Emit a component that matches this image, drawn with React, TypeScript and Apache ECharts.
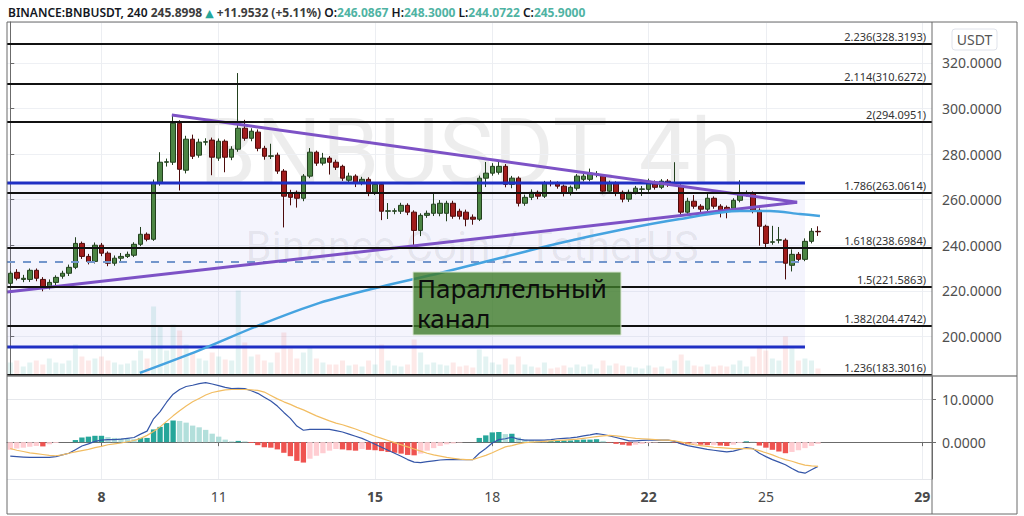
import React, { useEffect, useRef } from "react";
import * as echarts from "echarts";

const FONT = "'Noto Sans', 'DejaVu Sans', sans-serif";

// ---- candles (4h), first candle: day 5, 16:00 ----
const START_DAY = 5;
const START_HOUR = 16;
const SLOTS = 142;

const opens = [223.3,228.1,225.0,225.0,229.0,225.0,221.5,223.7,226.4,227.7,
230.3,240.8,235.1,232.9,240.0,236.5,232.1,234.3,235.1,235.6,
240.4,244.8,242.6,267.2,276.4,276.4,293.5,272.9,286.5,279.5,
285.2,286.1,278.2,285.6,278.6,282.1,291.3,286.9,289.6,282.5,
279.0,279.5,272.5,262.8,263.2,260.6,270.3,280.8,276.0,278.2,
276.4,274.6,268.5,270.3,267.2,268.9,263.2,266.7,254.9,254.9,
254.9,257.5,254.5,246.5,253.1,254.0,254.0,254.0,258.4,254.9,
254.5,252.3,251.4,269.4,271.6,272.0,274.6,266.7,269.4,258.4,
261.0,263.2,261.5,267.2,267.2,265.9,262.8,265.0,268.9,268.9,
271.1,270.3,263.7,267.2,263.2,260.2,263.2,264.5,264.5,267.6,
265.4,268.1,267.2,265.9,254.5,259.3,257.1,255.8,260.6,257.1,
256.6,256.2,259.7,262.8,262.8,255.3,248.3,241.3,242.2,242.2,
231.2,236.0,233.8,241.7,246.0867];

const closes = [227.7,225.5,225.5,229.0,225.5,221.5,223.7,225.9,227.7,230.3,
240.8,235.1,232.9,240.0,236.5,232.1,234.3,235.1,236.0,240.4,
244.8,242.6,267.2,276.4,276.6,293.5,273.3,286.5,279.0,285.2,
285.4,278.6,285.6,278.6,282.1,291.3,286.9,290.0,282.5,279.0,
279.2,272.5,261.5,261.0,260.6,270.3,280.8,276.0,278.2,276.4,
274.2,269.4,270.3,267.2,268.9,263.2,266.7,254.9,255.1,255.1,
257.5,254.5,246.5,253.1,254.0,258.0,258.4,258.4,252.7,252.7,
251.4,251.4,269.4,271.6,274.6,274.6,266.7,269.4,258.4,261.0,
263.2,261.5,267.2,267.0,265.9,262.8,265.4,270.3,270.3,271.6,
271.3,263.7,267.2,262.8,260.2,263.2,265.0,264.7,268.1,265.4,
268.1,266.7,267.4,254.5,259.3,257.1,255.8,260.6,257.1,255.3,
254.9,259.7,262.8,263.0,255.3,248.3,240.8,241.5,242.4,232.1,
236.0,233.8,241.7,246.1,245.9];

const highs = [228.6,229.5,227.0,229.8,229.8,226.0,225.0,226.8,228.8,231.5,
243.5,241.6,236.2,241.2,241.0,237.3,235.5,236.6,237.2,241.3,
248.0,245.6,268.8,280.8,278.0,297.0,294.8,288.0,288.5,286.7,
286.9,287.2,286.8,286.4,283.4,315.5,295.0,291.3,290.8,283.6,
284.5,280.6,273.4,264.3,264.0,271.2,282.6,281.5,280.5,279.1,
277.5,275.3,271.8,271.1,270.0,269.8,267.6,267.5,258.5,256.2,
258.6,258.4,255.3,254.0,255.2,263.0,259.8,259.5,259.5,256.0,
255.6,253.5,270.5,276.5,276.0,277.3,275.6,270.4,270.2,262.2,
264.5,264.0,268.2,268.5,268.0,266.6,266.2,271.2,271.5,273.6,
272.5,271.0,268.3,268.0,264.0,264.4,266.0,266.0,269.2,268.4,
269.0,269.0,276.4,266.7,260.8,262.0,258.0,263.0,261.4,258.0,
257.4,260.6,268.5,264.0,263.6,256.2,249.0,248.5,248.0,243.0,
238.2,237.0,243.0,247.5,248.3];

const lows = [222.0,224.6,223.8,223.9,224.2,219.8,220.6,222.5,225.3,226.5,
229.5,234.0,231.6,232.0,235.2,230.8,231.0,233.1,234.4,234.8,
239.6,241.7,241.9,266.1,274.5,275.2,264.0,271.5,277.8,278.4,
283.8,270.7,277.0,272.0,277.3,281.0,285.8,285.6,281.2,277.5,
277.8,271.3,247.8,257.5,256.5,259.3,269.4,274.8,275.0,271.0,
273.0,268.2,267.0,265.5,266.3,261.5,262.0,251.0,251.5,253.6,
253.7,253.2,239.5,244.0,252.0,252.8,252.7,250.5,251.6,251.3,
248.3,249.0,250.6,265.5,270.5,271.0,265.4,265.0,257.0,257.3,
259.8,260.2,260.7,265.8,264.8,261.4,261.8,264.0,268.0,268.0,
269.8,262.4,262.8,261.5,258.8,259.0,262.3,261.6,263.4,264.4,
264.6,265.6,266.0,253.2,253.3,256.0,254.2,254.8,256.0,252.2,
251.8,255.3,258.8,261.3,254.0,239.8,239.2,240.2,240.8,225.0,
228.5,232.6,233.0,240.8,244.0722];

const volumes = [12,14,8,12,14,10,16,12,11,14,
30,18,14,16,18,14,12,10,11,14,
24,16,68,48,24,50,44,30,22,16,
14,22,18,15,14,84,32,18,20,14,
12,22,42,26,16,22,28,16,12,10,
10,14,9,10,8,14,10,30,14,9,
8,10,35,22,10,12,10,9,12,8,
9,7,25,18,12,10,16,10,18,10,
8,7,12,6,7,9,7,10,8,10,
6,14,9,11,9,8,7,6,9,7,
8,6,14,20,14,9,8,10,8,9,
8,10,14,8,18,28,24,16,14,38,
26,14,16,14,6];

// ---- MACD ----
const macdLine = [-3.3,-3.4,-3.5,-3.6,-3.6,-3.6,-3.6,-3.4,-3.0,-2.6,
-1.8,-0.9,-0.4,0.2,0.5,0.6,0.6,0.7,0.9,1.1,
1.9,2.6,5.5,7.2,9.4,11.3,12.4,13.1,13.4,13.8,
14.0,13.7,13.3,12.9,12.6,12.7,12.6,12.1,11.5,10.6,
9.7,8.5,7.0,5.6,3.8,2.8,3.0,3.0,3.0,3.0,
2.7,2.4,1.9,1.4,0.9,0.2,-0.5,-1.2,-1.9,-2.6,
-3.3,-4.1,-4.7,-4.8,-4.6,-4.4,-4.2,-4.1,-4.1,-4.1,
-4.1,-4.1,-2.6,-1.5,-0.2,0.6,0.8,1.2,0.7,0.5,
0.5,0.5,0.5,0.6,0.8,0.9,1.0,1.2,1.5,1.7,
2.0,1.8,1.5,1.1,0.7,0.3,0.3,0.4,0.5,0.5,
0.5,0.5,0.2,-0.4,-0.8,-1.1,-1.4,-1.7,-1.9,-2.1,
-2.3,-2.1,-1.7,-1.3,-1.5,-2.6,-3.4,-4.1,-4.7,-5.3,
-6.2,-7.0,-7.3,-6.5,-5.7];

const signalLine = [-1.5,-1.9,-2.2,-2.5,-2.7,-2.9,-3.1,-3.2,-3.0,-2.6,
-2.3,-2.0,-1.7,-1.3,-1.0,-0.6,-0.4,-0.2,0.1,0.4,
0.9,1.6,2.5,3.6,4.9,6.2,7.4,8.5,9.5,10.3,
11.1,11.7,12.0,12.3,12.4,12.4,12.4,12.3,12.2,11.8,
11.0,10.2,9.5,8.9,8.2,7.6,6.9,6.2,5.6,5.0,
4.5,4.1,3.6,3.1,2.5,2.0,1.4,0.9,0.4,-0.1,
-0.6,-1.1,-1.6,-2.1,-2.6,-3.0,-3.3,-3.6,-3.8,-4.0,
-4.1,-4.1,-3.6,-3.1,-2.5,-1.8,-1.1,-0.8,-0.4,-0.1,
0.0,0.1,0.2,0.3,0.4,0.5,0.6,0.7,0.9,1.1,
1.3,1.5,1.6,1.5,1.3,1.1,0.9,0.8,0.7,0.6,
0.5,0.5,0.3,0.0,-0.3,-0.6,-0.8,-1.0,-1.2,-1.3,
-1.4,-1.5,-1.5,-1.5,-1.6,-2.0,-2.5,-3.0,-3.6,-4.1,
-4.5,-5.0,-5.4,-5.6,-5.7];

const histogram = [-1.8,-1.5,-1.3,-1.1,-0.9,-1.0,-0.5,-0.2,0.0,0.0,
0.5,1.1,1.3,1.5,1.5,1.2,1.0,0.9,0.8,0.7,
1.0,1.0,3.0,3.6,4.5,5.1,5.0,4.6,3.9,3.5,
2.9,2.0,1.3,0.6,0.2,0.3,0.2,-0.2,-0.7,-1.2,
-1.3,-1.7,-2.5,-3.3,-4.4,-4.8,-3.9,-3.2,-2.6,-2.0,
-1.6,-1.7,-1.9,-2.0,-1.6,-1.8,-1.9,-2.1,-2.3,-2.5,
-2.7,-3.0,-3.1,-2.7,-2.0,-1.4,-0.9,-0.5,-0.3,-0.1,
0.0,0.0,1.0,1.6,2.3,2.4,1.9,2.0,1.1,0.6,
0.5,0.4,0.3,0.3,0.4,0.4,0.4,0.5,0.6,0.6,
0.7,0.3,-0.1,-0.4,-0.6,-0.8,-0.6,-0.4,-0.2,-0.1,
0.0,0.0,-0.1,-0.4,-0.5,-0.5,-0.6,-0.7,-0.7,-0.8,
-0.9,-0.6,-0.2,0.2,0.1,-0.8,-1.3,-1.8,-2.2,-2.6,
-2.3,-1.9,-1.4,-0.9,-0.4];

// ---- Fibonacci extension levels ----
const fibRatios = ["2.236", "2.114", "2", "1.786", "1.618", "1.5", "1.382", "1.236"];
const fibPrices = [328.3193, 310.6272, 294.0951, 263.0614, 238.6984, 221.5863, 204.4742, 183.3016];

// ---- drawings, [candle index, price] ----
const channelTop: [number, number][] = [[-0.5, 267.3], [122.0, 267.3]];
const channelBottom: [number, number][] = [[-0.5, 195.4], [122.0, 195.4]];
const channelMid: [number, number][] = [[-0.5, 232.6], [122.0, 232.6]];
const upperTrend: [number, number][] = [[24.8, 297.1], [120.8, 258.8]];
const lowerTrend: [number, number][] = [[-0.5, 219.5], [120.8, 258.8]];
const maPoints: [number, number][] = [
  [19.9, 184.0], [29.1, 194.0], [38.3, 205.0], [47.5, 214.7], [56.8, 221.7],
  [66.0, 227.8], [75.2, 234.4], [84.4, 241.0], [93.6, 246.7], [102.8, 251.5],
  [112.0, 255.0], [116.6, 255.0], [121.2, 253.7], [124.3, 252.8],
];

const dayLabels = ["8", "11", "15", "18", "22", "25", "29"];
const boldDays = ["8", "15", "22", "29"];
const lastPrice = 245.9;

const categories = Array.from({ length: SLOTS }, (_, i) => {
  const h = START_HOUR + 4 * i;
  return `${START_DAY + Math.floor(h / 24)} ${String(h % 24).padStart(2, "0")}:00`;
});
const dayOf = (i: number) => START_DAY + Math.floor((START_HOUR + 4 * i) / 24);
const showDay = (i: number) =>
  (START_HOUR + 4 * i) % 24 === 0 && dayLabels.includes(String(dayOf(i)));

const UP = "#4c8544";
const UP_B = "#22401e";
const DOWN = "#a11c1c";
const DOWN_B = "#4d0b0b";

export default function App() {
  const ref = useRef<HTMLDivElement>(null);

  useEffect(() => {
    if (!ref.current) return;
    const chart = echarts.init(ref.current, null, { renderer: "svg" });

    const candleData = opens.map((o, i) => [o, closes[i], lows[i], highs[i]]);
    const volData = volumes.map((v, i) => ({
      value: v,
      itemStyle: {
        color: closes[i] >= opens[i] ? "rgba(38,166,154,0.13)" : "rgba(239,83,80,0.13)",
      },
    }));
    const histData = histogram.map((h, i) => {
      const prev = i > 0 ? histogram[i - 1] : h;
      let c;
      if (h >= 0) c = h >= prev ? "#26a69a" : "#b2dfdb";
      else c = h < prev ? "#ef5350" : "#ffcdd2";
      return { value: h, itemStyle: { color: c } };
    });

    const fibMarks: any[] = fibPrices.map((p, i) => ({
      yAxis: p,
      lineStyle: { color: "#111", width: 2, type: "solid" },
      label: {
        show: true,
        position: "insideEndTop",
        formatter: `${fibRatios[i]}(${p.toFixed(4)})`,
        color: "#333",
        fontSize: 11,
        fontFamily: FONT,
        distance: [6, 2],
      },
    }));
    fibMarks.push({
      yAxis: lastPrice,
      lineStyle: { opacity: 0, width: 0 },
      label: {
        show: true,
        position: "end",
        distance: 0,
        formatter: lastPrice.toFixed(4),
        color: "#fff",
        backgroundColor: "#cf0a0a",
        borderRadius: 2,
        padding: [3, 9, 2, 9],
        fontSize: 15,
        fontFamily: FONT,
      },
    });

    const lineSeries = (data: [number, number][], color: string, width: number, extra: any = {}) => ({
      type: "line",
      xAxisIndex: 1,
      yAxisIndex: 0,
      data,
      symbol: "none",
      silent: true,
      z: 5,
      lineStyle: { color, width, ...(extra.lineStyle || {}) },
      ...extra.rest,
    });

    const axisLabelStyle = {
      color: "#4f4f4f",
      fontSize: 14,
      fontFamily: FONT,
      margin: 10,
      showMinLabel: false,
      showMaxLabel: false,
      formatter: (v: number) => v.toFixed(4),
    };

    const option: any = {
      animation: false,
      backgroundColor: "#ffffff",
      textStyle: { fontFamily: FONT },
      title: {
        left: 3,
        top: 1,
        text:
          "{a|BINANCE:BNBUSDT, 240} {b|245.8998} {u|▲} {b|+11.9532 (+5.11%)} {k|O:}{v|246.0867} {k|H:}{v|248.3000} {k|L:}{v|244.0722} {k|C:}{v|245.9000}",
        textStyle: {
          fontSize: 12,
          fontFamily: FONT,
          rich: {
            a: { fontSize: 12, fontWeight: 600, color: "#131722", fontFamily: FONT },
            b: { fontSize: 12, color: "#3c3c3c", fontFamily: FONT },
            u: { fontSize: 11, color: "#26a69a", fontFamily: FONT },
            k: { fontSize: 12, fontWeight: 600, color: "#131722", fontFamily: FONT },
            v: { fontSize: 12, color: "#4fb3a3", fontFamily: FONT },
          },
        },
      },
      grid: [
        { left: 7, right: 92, top: 22, height: 352.5, show: false },
        { left: 7, right: 92, top: 376.5, height: 102.5, show: false },
      ],
      xAxis: [
        {
          type: "category",
          gridIndex: 0,
          data: categories,
          axisLine: { show: false },
          axisTick: { show: false },
          axisLabel: { show: false },
          splitLine: { show: true, interval: (i: number) => showDay(i), alignWithLabel: true, lineStyle: { color: "#eceef2" } },
        },
        { type: "value", gridIndex: 0, min: -0.5, max: SLOTS - 0.5, show: false },
        {
          type: "category",
          gridIndex: 1,
          data: categories,
          axisLine: { show: true, lineStyle: { color: "#6b6b6b" } },
          axisTick: { show: true, alignWithLabel: true, interval: (i: number) => showDay(i), length: 4, lineStyle: { color: "#6b6b6b" } },
          axisLabel: {
            interval: (i: number) => showDay(i),
            margin: 10,
            formatter: (_v: string, i: number) => {
              const d = String(dayOf(i));
              return boldDays.includes(d) ? `{b|${d}}` : `{n|${d}}`;
            },
            rich: {
              b: { fontSize: 14, fontWeight: "bold", color: "#4a4a4a", fontFamily: FONT },
              n: { fontSize: 14, color: "#4a4a4a", fontFamily: FONT },
            },
          },
          splitLine: { show: true, interval: (i: number) => showDay(i), alignWithLabel: true, lineStyle: { color: "#eceef2" } },
        },
      ],
      yAxis: [
        {
          type: "value",
          gridIndex: 0,
          position: "right",
          min: 183.3,
          max: 337.9,
          splitNumber: 7,
          axisLine: { show: true, lineStyle: { color: "#6b6b6b" } },
          axisTick: { show: true, length: 4, lineStyle: { color: "#6b6b6b" } },
          axisLabel: axisLabelStyle,
          splitLine: { show: true, lineStyle: { color: "#eef0f4" } },
        },
        { type: "value", gridIndex: 0, min: 0, max: 352.5, show: false },
        {
          type: "value",
          gridIndex: 1,
          position: "right",
          min: -8.67,
          max: 15.46,
          splitNumber: 2,
          axisLine: { show: true, lineStyle: { color: "#6b6b6b" } },
          axisTick: { show: true, length: 4, lineStyle: { color: "#6b6b6b" } },
          axisLabel: axisLabelStyle,
          splitLine: { show: true, lineStyle: { color: "#e6e8ec" } },
        },
      ],
      series: [
        {
          type: "bar",
          name: "Volume",
          xAxisIndex: 0,
          yAxisIndex: 1,
          data: volData,
          barWidth: 5,
          silent: true,
          z: 1,
        },
        {
          type: "line",
          name: "channel",
          xAxisIndex: 1,
          yAxisIndex: 0,
          data: channelTop,
          symbol: "none",
          silent: true,
          z: 5,
          lineStyle: { color: "#1f2fc4", width: 3 },
          markArea: {
            silent: true,
            itemStyle: { color: "rgba(95,105,220,0.07)" },
            data: [[{ coord: [channelTop[0][0], channelTop[0][1]] }, { coord: [channelBottom[1][0], channelBottom[1][1]] }]],
          },
        },
        lineSeries(channelBottom, "#1f2fc4", 3),
        lineSeries(channelMid, "#7396cc", 2, { lineStyle: { type: [8, 8] } }),
        {
          type: "candlestick",
          name: "BNBUSDT",
          xAxisIndex: 0,
          yAxisIndex: 0,
          data: candleData,
          barWidth: 5,
          z: 3,
          itemStyle: { color: UP, color0: DOWN, borderColor: UP_B, borderColor0: DOWN_B, borderWidth: 1 },
          markLine: { silent: true, symbol: ["none", "none"], data: fibMarks, z: 6 },
        },
        lineSeries(upperTrend, "#7d52c6", 3),
        lineSeries(lowerTrend, "#7d52c6", 3),
        lineSeries(maPoints, "#45a3e0", 2.5, { rest: { smooth: 0.3 } }),
        {
          type: "bar",
          name: "Histogram",
          xAxisIndex: 2,
          yAxisIndex: 2,
          data: histData,
          barWidth: "82%",
          silent: true,
        },
        {
          type: "line",
          name: "MACD",
          xAxisIndex: 2,
          yAxisIndex: 2,
          data: macdLine,
          symbol: "none",
          silent: true,
          lineStyle: { color: "#3556a8", width: 1.2 },
        },
        {
          type: "line",
          name: "Signal",
          xAxisIndex: 2,
          yAxisIndex: 2,
          data: signalLine,
          symbol: "none",
          silent: true,
          lineStyle: { color: "#f2bd62", width: 1.2 },
        },
      ],
      graphic: [
        {
          type: "text",
          z: 0,
          silent: true,
          x: 470,
          y: 152,
          style: {
            text: "BNBUSDT, 4h",
            align: "center",
            verticalAlign: "middle",
            fontSize: 92,
            fontFamily: "Roboto",
            fill: "rgba(0,0,0,0.07)",
          },
        },
        {
          type: "text",
          z: 0,
          silent: true,
          x: 472,
          y: 246,
          style: {
            text: "Binance Coin / TetherUS",
            align: "center",
            verticalAlign: "middle",
            fontSize: 42,
            fontFamily: "Roboto",
            fill: "rgba(0,0,0,0.07)",
          },
        },
        {
          type: "group",
          z: 50,
          children: [
            {
              type: "rect",
              z: 50,
              shape: { x: 413, y: 272, width: 208, height: 63 },
              style: { fill: "rgba(62,124,41,0.8)", stroke: "#d9e6d2", lineWidth: 1 },
            },
            {
              type: "text",
              z: 51,
              x: 417,
              y: 273,
              style: {
                text: "Параллельный\nканал",
                fontSize: 26,
                lineHeight: 30,
                fontFamily: FONT,
                fill: "#0d0d0d",
                verticalAlign: "top",
              },
            },
          ],
        },
        {
          type: "rect",
          z: 40,
          shape: { x: 952, y: 29, width: 45, height: 21, r: 3 },
          style: { fill: "#fff", stroke: "#e0e3eb", lineWidth: 1 },
        },
        {
          type: "text",
          z: 41,
          x: 974.5,
          y: 39.5,
          style: { text: "USDT", align: "center", verticalAlign: "middle", fontSize: 14, fontFamily: FONT, fill: "#555" },
        },
        {
          type: "line",
          z: 60,
          shape: { x1: 7, y1: 376, x2: 1017, y2: 376 },
          style: { stroke: "#8a8a8a", lineWidth: 1.5 },
        },
        {
          type: "line",
          z: 60,
          shape: { x1: 932, y1: 22, x2: 932, y2: 514 },
          style: { stroke: "#6b6b6b", lineWidth: 1 },
        },
        {
          type: "rect",
          z: 60,
          shape: { x: 7, y: 22, width: 1010, height: 492 },
          style: { fill: "none", stroke: "#6b6b6b", lineWidth: 1 },
        },
      ],
    };

    chart.setOption(option);
    return () => chart.dispose();
  }, []);

  return (
    <div
      ref={ref}
      style={{ position: "fixed", left: 0, top: 0, width: 1024, height: 516, background: "#fff" }}
    />
  );
}
